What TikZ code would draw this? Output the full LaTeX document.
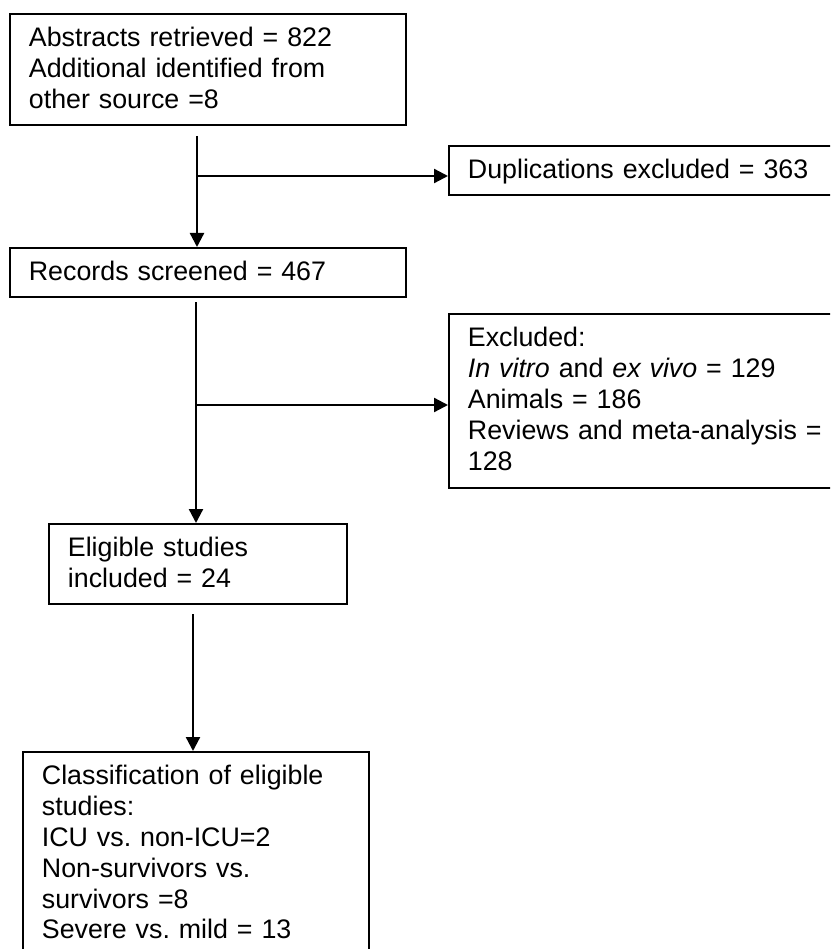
\documentclass[tikz,border=0pt]{standalone}
\usepackage{fontspec}
\setmainfont{Liberation Sans}
\usepackage{tikz}
\usetikzlibrary{positioning, arrows, arrows.meta}
\frenchspacing

\tikzset{
  flowbox/.style={draw, line width=1.8pt, anchor=north west, align=left,
    inner xsep=19pt, inner ysep=0pt, text height=33pt,
    font=\fontsize{26.8}{30.8}\selectfont},
  flowarrow/.style={-{Triangle[length=14pt, width=14pt]}, line width=2.3pt}
}

\begin{document}
\begin{tikzpicture}[x=1pt, y=-1pt]
\useasboundingbox (0,0) rectangle (830,949);
\clip (0,0) rectangle (830,949);
% Boxes
\node[flowbox, text width=358pt, text depth=78pt] (abstracts) at (9,13)
  {Abstracts retrieved = 822\\ Additional identified from\\ other source =8};
\node[flowbox, text width=430pt, text depth=16pt] (dup) at (448,145)
  {Duplications excluded = 363};
\node[flowbox, text width=358pt, text depth=16pt] (screened) at (9,247)
  {Records screened = 467};
\node[flowbox, text width=430pt, text depth=141pt] (excl) at (448,313)
  {Excluded:\\ \textit{In vitro} and \textit{ex vivo} = 129\\ Animals = 186\\
   Reviews and meta-analysis =\\ 128};
\node[flowbox, text width=260pt, text depth=47pt] (eligible) at (48,523)
  {Eligible studies\\ included = 24};
\node[flowbox, text width=308pt, text depth=260pt] (classif) at (22,751)
  {Classification of eligible\\ studies:\\ ICU vs. non-ICU=2\\ Non-survivors vs.\\
   survivors =8\\ Severe vs. mild = 13};
% Connectors
\coordinate (s1) at (197,136);
\coordinate (b1) at (197,176);
\coordinate (s2) at (196,302);
\coordinate (b2) at (196,405);
\coordinate (s3) at (193,614);
\draw[flowarrow] (s1) -- (s1 |- screened.north);
\draw[flowarrow] (b1) -- (b1 -| dup.west);
\draw[flowarrow] (s2) -- (s2 |- eligible.north);
\draw[flowarrow] (b2) -- (b2 -| excl.west);
\draw[flowarrow] (s3) -- (s3 |- classif.north);
\end{tikzpicture}
\end{document}
